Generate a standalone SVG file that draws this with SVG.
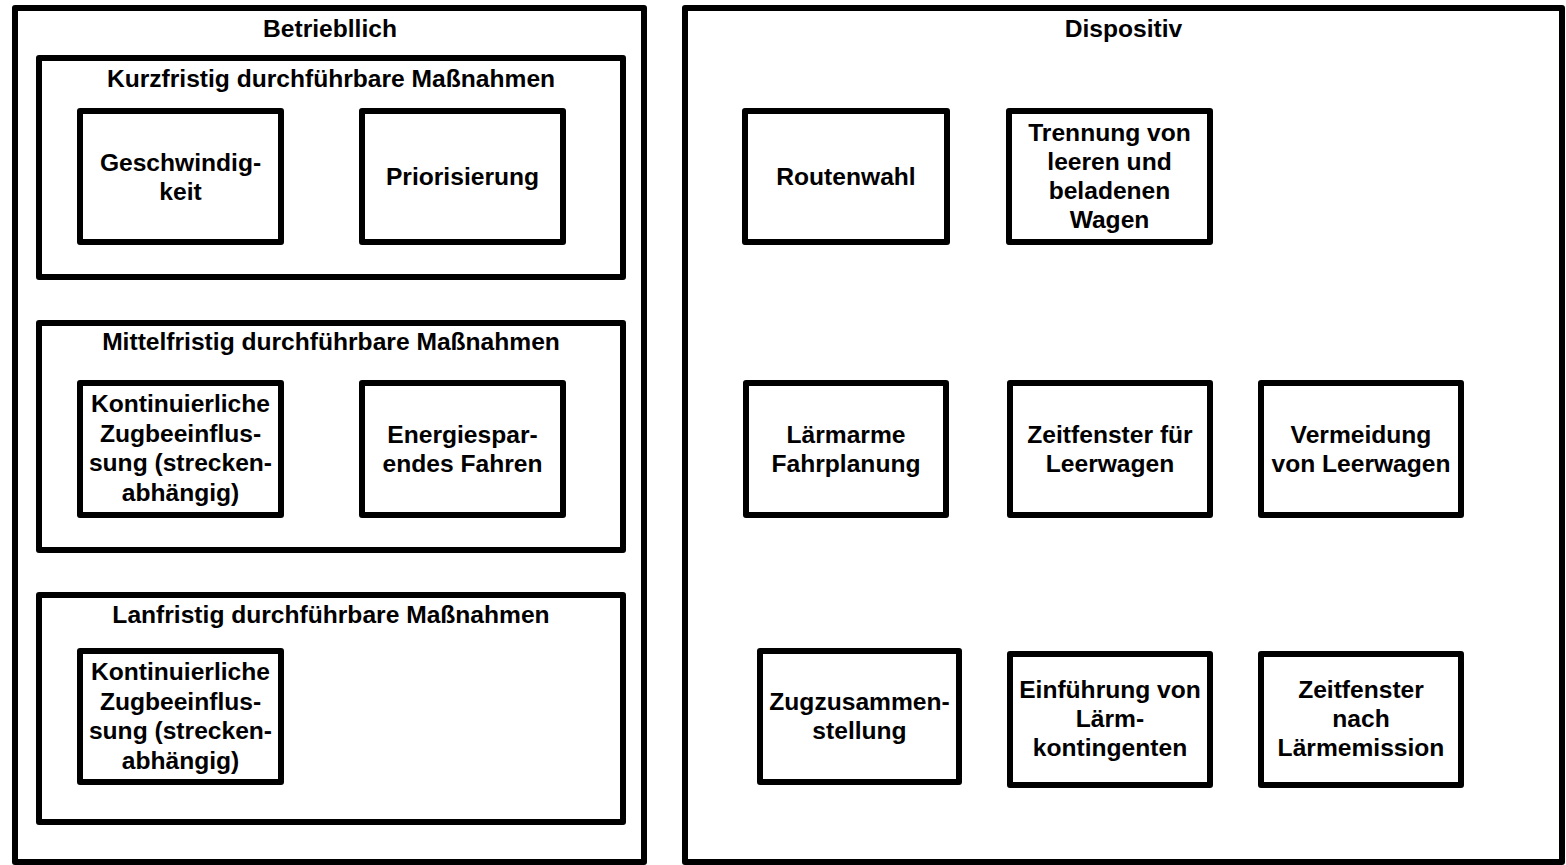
<svg xmlns="http://www.w3.org/2000/svg" width="1566" height="865" viewBox="0 0 1566 865">
<style>
.box{fill:#fff;stroke:#000;stroke-width:6;stroke-linejoin:round}
text{font-family:"Liberation Sans",Arial,sans-serif;font-weight:bold;font-size:24.6px;fill:#000;text-anchor:middle}
</style>
<rect width="1566" height="865" fill="#fff"/>
<g id="betrieblich">
<rect class="box" x="15" y="8" width="629" height="854"/>
<text x="330" y="37">Betriebllich</text>
</g>
<g id="kurzfristig">
<rect class="box" x="39" y="58" width="584" height="219"/>
<text x="331" y="87">Kurzfristig durchführbare Maßnahmen</text>
</g>
<g id="geschwindigkeit">
<rect class="box" x="80" y="111" width="201" height="131"/>
<text x="180.5" y="170.5">Geschwindig-</text>
<text x="180.5" y="199.5">keit</text>
</g>
<g id="priorisierung">
<rect class="box" x="362" y="111" width="201" height="131"/>
<text x="462.5" y="185">Priorisierung</text>
</g>
<g id="mittelfristig">
<rect class="box" x="39" y="323" width="584" height="227"/>
<text x="331" y="350">Mittelfristig durchführbare Maßnahmen</text>
</g>
<g id="kontinuierliche1">
<rect class="box" x="80" y="383" width="201" height="132"/>
<text x="180.5" y="412">Kontinuierliche</text>
<text x="180.5" y="441.5">Zugbeeinflus-</text>
<text x="180.5" y="471">sung (strecken-</text>
<text x="180.5" y="500.5">abhängig)</text>
</g>
<g id="energiesparendes">
<rect class="box" x="362" y="383" width="201" height="132"/>
<text x="462.5" y="442.5">Energiespar-</text>
<text x="462.5" y="471.5">endes Fahren</text>
</g>
<g id="langfristig">
<rect class="box" x="39" y="595" width="584" height="227"/>
<text x="331" y="622.5">Lanfristig durchführbare Maßnahmen</text>
</g>
<g id="kontinuierliche2">
<rect class="box" x="80" y="651" width="201" height="131"/>
<text x="180.5" y="680">Kontinuierliche</text>
<text x="180.5" y="709.5">Zugbeeinflus-</text>
<text x="180.5" y="739">sung (strecken-</text>
<text x="180.5" y="768.5">abhängig)</text>
</g>
<g id="dispositiv">
<rect class="box" x="685" y="8" width="877" height="854"/>
<text x="1123.5" y="37">Dispositiv</text>
</g>
<g id="routenwahl">
<rect class="box" x="745" y="111" width="202" height="131"/>
<text x="846" y="185">Routenwahl</text>
</g>
<g id="trennung">
<rect class="box" x="1009" y="111" width="201" height="131"/>
<text x="1109.5" y="141">Trennung von</text>
<text x="1109.5" y="170">leeren und</text>
<text x="1109.5" y="199">beladenen</text>
<text x="1109.5" y="228">Wagen</text>
</g>
<g id="laermarme">
<rect class="box" x="746" y="383" width="200" height="132"/>
<text x="846" y="442.5">Lärmarme</text>
<text x="846" y="471.5">Fahrplanung</text>
</g>
<g id="zeitfenster-leer">
<rect class="box" x="1010" y="383" width="200" height="132"/>
<text x="1110" y="442.5">Zeitfenster für</text>
<text x="1110" y="471.5">Leerwagen</text>
</g>
<g id="vermeidung">
<rect class="box" x="1261" y="383" width="200" height="132"/>
<text x="1361" y="442.5">Vermeidung</text>
<text x="1361" y="471.5">von Leerwagen</text>
</g>
<g id="zugzusammenstellung">
<rect class="box" x="760" y="651" width="199" height="131"/>
<text x="859.5" y="710">Zugzusammen-</text>
<text x="859.5" y="739">stellung</text>
</g>
<g id="einfuehrung">
<rect class="box" x="1010" y="654" width="200" height="131"/>
<text x="1110" y="698">Einführung von</text>
<text x="1110" y="727">Lärm-</text>
<text x="1110" y="756">kontingenten</text>
</g>
<g id="zeitfenster-laerm">
<rect class="box" x="1261" y="654" width="200" height="131"/>
<text x="1361" y="698">Zeitfenster</text>
<text x="1361" y="727">nach</text>
<text x="1361" y="756">Lärmemission</text>
</g>
<g id="connectors"></g>
</svg>
